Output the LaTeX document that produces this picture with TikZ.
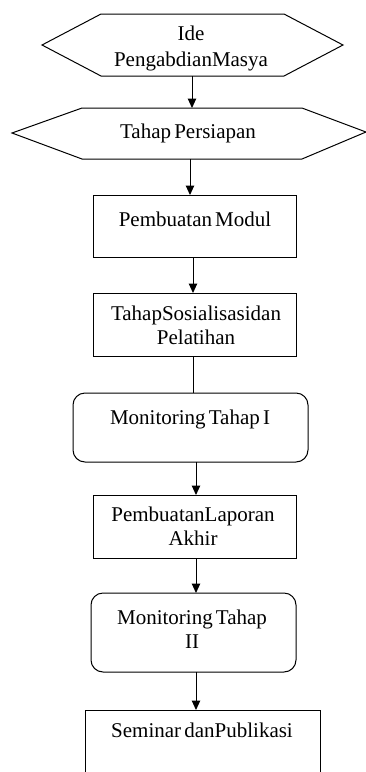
\documentclass[tikz,border=0pt]{standalone}
\usepackage{fontspec}
\setmainfont{Liberation Serif}[WordSpace=0.6]
\usetikzlibrary{arrows.meta}
\begin{document}
\begin{tikzpicture}[x=1pt,y=-1pt,
  line width=1pt,
  lbl/.style={inner sep=0pt,align=center,font=\fontsize{21}{24}\selectfont},
  anchorbox/.style={inner sep=0pt,outer sep=0pt,draw=none},
  boxnode/.style={draw,inner sep=0pt,outer sep=0pt},
  roundnode/.style={draw,rounded corners=12pt,inner sep=0pt,outer sep=0pt},
  arr/.style={-{Triangle[length=9.5pt,width=8.5pt]}}]
\useasboundingbox (0,0) rectangle (366,772);
% hexagon 1
\draw (42,45) -- (101,14) -- (284,14) -- (343,45) -- (284,76) -- (101,76) -- cycle;
\node[anchorbox,minimum width=301pt,minimum height=62pt] (h1) at (192.5,45) {};
\node[lbl] (t1) at (191,48) {Ide\\[2pt]PengabdianMasya};
% hexagon 2
\draw (12,133) -- (82,108) -- (302,108) -- (366,132) -- (302,159) -- (82,159) -- cycle;
\node[anchorbox,minimum width=354pt,minimum height=51pt] (h2) at (190,133.5) {};
\node[lbl] (t2) at (188,133) {Tahap Persiapan};
% boxes
\node[boxnode,minimum width=203pt,minimum height=62pt] (r1) at (194.5,226) {};
\node[lbl] (t3) at (195,219) {Pembuatan Modul};
\node[boxnode,minimum width=203pt,minimum height=63pt] (r2) at (194.5,324.5) {};
\node[lbl] (t4) at (196,325) {TahapSosialisasidan\\Pelatihan};
\node[roundnode,minimum width=235pt,minimum height=69pt] (m1) at (190.5,427.5) {};
\node[lbl] (t5) at (190,419) {Monitoring Tahap I};
\node[boxnode,minimum width=203pt,minimum height=63pt] (r3) at (194.5,526.5) {};
\node[lbl] (t6) at (193,526) {PembuatanLaporan\\Akhir};
\node[roundnode,minimum width=205pt,minimum height=79pt] (m2) at (193.5,632.5) {};
\node[lbl] (t7) at (192,629) {Monitoring Tahap\\II};
\node[boxnode,minimum width=235pt,minimum height=80pt] (r4) at (202.5,750) {};
\node[lbl] (t8) at (202,730) {Seminar danPublikasi};
% connector x positions
\coordinate (xa) at (192,0);
\coordinate (xb) at (190,0);
\coordinate (xc) at (193,0);
\coordinate (xd) at (196,0);
% connectors
\draw[arr] (h1.south -| xa) -- (h2.north -| xa);
\draw[arr] (h2.south -| xb) -- (r1.north -| xb);
\draw[arr] (r1.south -| xc) -- (r2.north -| xc);
\draw (r2.south -| xc) -- (m1.north -| xc);
\draw[arr] (m1.south -| xd) -- (r3.north -| xd);
\draw[arr] (r3.south -| xd) -- (m2.north -| xd);
\draw[arr] (m2.south -| xd) -- (r4.north -| xd);
\end{tikzpicture}
\end{document}
